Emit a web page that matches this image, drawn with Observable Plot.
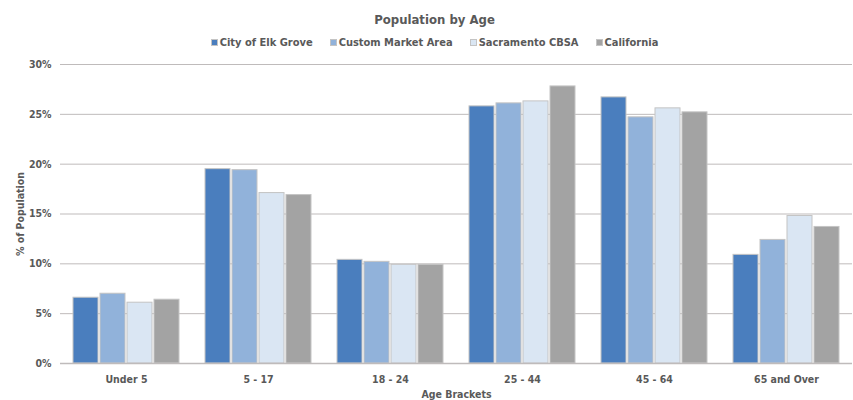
<!DOCTYPE html>
<html>
<head>
<meta charset="utf-8">
<script src="https://cdn.jsdelivr.net/npm/d3@7"></script>
<script src="https://cdn.jsdelivr.net/npm/@observablehq/plot@0.6"></script>
<style>
  html, body { margin: 0; padding: 0; background: #fff; overflow: hidden; }
  body { font-family: "DejaVu Sans Condensed", "DejaVu Sans", sans-serif; color: #595959; font-weight: bold; width: 853px; }
  #hdr { position: relative; height: 55px; }
  #title { position: absolute; top: 12px; left: 0; width: 853px; padding-left: 16px; box-sizing: border-box; text-align: center; font-size: 13px; }
  #legend { position: absolute; top: 36px; left: 0; width: 853px; padding-left: 16px; box-sizing: border-box; display: flex; justify-content: center; gap: 17px; font-size: 11px; }
  .item { display: flex; align-items: center; gap: 2px; }
  .sw { width: 7px; height: 7px; box-sizing: border-box; border: 1px solid #c4c4c4; display: inline-block; }
</style>
</head>
<body>
<div id="hdr">
  <div id="title">Population by Age</div>
  <div id="legend"></div>
</div>
<div id="chart"></div>
<script>
const ages = ["Under 5", "5 - 17", "18 - 24", "25 - 44", "45 - 64", "65 and Over"];
const series = ["City of Elk Grove", "Custom Market Area", "Sacramento CBSA", "California"];
const elkGrove     = [6.6, 19.5, 10.4, 25.8, 26.7, 10.9];
const customMarket = [7.0, 19.4, 10.2, 26.1, 24.7, 12.4];
const sacramento   = [6.1, 17.1, 9.9, 26.3, 25.6, 14.8];
const california   = [6.4, 16.9, 9.9, 27.8, 25.2, 13.7];
const yTicks = [0, 5, 10, 15, 20, 25, 30];
const colors = ["#4a7ebe", "#91b2da", "#dae6f3", "#a3a3a3"];

const valuesBySeries = [elkGrove, customMarket, sacramento, california];
const data = [];
ages.forEach((age, i) => {
  series.forEach((s, j) => data.push({age, series: s, value: valuesBySeries[j][i]}));
});

// legend
const legend = document.getElementById("legend");
series.forEach((s, j) => {
  const it = document.createElement("div");
  it.className = "item";
  const sw = document.createElement("span");
  sw.className = "sw";
  sw.style.background = colors[j];
  it.appendChild(sw);
  const t = document.createElement("span");
  t.textContent = s;
  it.appendChild(t);
  legend.appendChild(it);
});

const chart = Plot.plot({
  width: 853,
  height: 345,
  marginLeft: 58,
  marginRight: 0,
  marginTop: 9,
  marginBottom: 37,
  style: {
    fontFamily: '"DejaVu Sans Condensed", "DejaVu Sans", sans-serif',
    fontSize: "10.5px",
    fontWeight: "bold",
    color: "#595959",
    background: "#fff"
  },
  fx: {domain: ages, padding: 0, label: "Age Brackets"},
  x: {domain: series, axis: null, paddingInner: 0.07, paddingOuter: 0.46},
  y: {domain: [0, 30], label: "% of Population"},
  color: {domain: series, range: colors},
  marks: [
    Plot.gridY(yTicks, {stroke: "#bfbbbb", strokeOpacity: 1}),
    Plot.axisY(yTicks, {tickSize: 0, tickPadding: 9, tickFormat: d => d + "%", label: "% of Population", labelAnchor: "center", labelOffset: 44, labelArrow: "none"}),
    Plot.axisFx({anchor: "bottom", tickSize: 0, tickPadding: 12, label: "Age Brackets", labelAnchor: "center", labelOffset: 34, labelArrow: "none"}),
    Plot.barY(data, {fx: "age", x: "series", y: "value", fill: "series", stroke: "#c4c4c4", strokeWidth: 1}),
    Plot.ruleY([0], {stroke: "#bfbbbb", strokeWidth: 1.5})
  ]
});
document.getElementById("chart").appendChild(chart);
</script>
</body>
</html>
